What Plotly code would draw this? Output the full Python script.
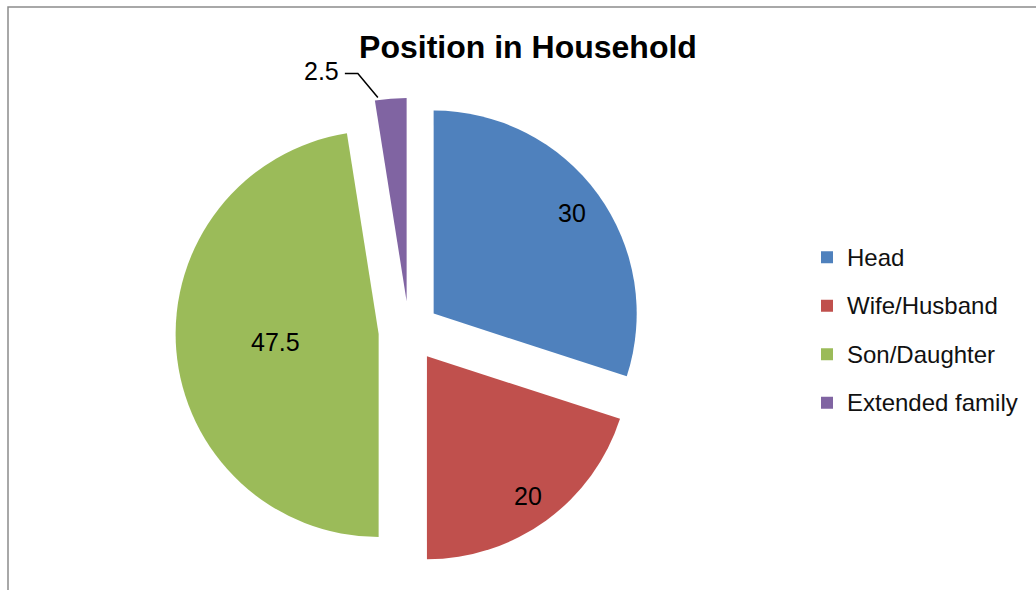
import math
import plotly.graph_objects as go

labels = ["Head", "Wife/Husband", "Son/Daughter", "Extended family"]
values = [30, 20, 47.5, 2.5]
colors = ["#4F81BD", "#C0504D", "#9BBB59", "#8064A2"]
label_radius = [0.84, 0.85, 0.51, None]   # where each value label sits, as a fraction of the radius
pull = 0.15

W, H = 1036, 590
dom_x = [0.1694, 0.6202]
dom_y = [0.0424, 0.8339]
FONT = "Liberation Sans, Arial"

fig = go.Figure()
fig.add_trace(go.Pie(
    labels=[f'<span style="font-size:24px; baseline-shift:5px">{l}</span>' for l in labels],
    values=values,
    sort=False,
    direction="clockwise",
    rotation=0,
    pull=[pull] * len(values),
    marker=dict(colors=colors, line=dict(width=0)),
    textinfo="none",
    domain=dict(x=dom_x, y=dom_y),
    hovertemplate="%{label}: %{value}<extra></extra>",
    showlegend=True,
))

# geometry of the pie (same rule plotly uses) to place the value labels
total = sum(values)
box_w = W * (dom_x[1] - dom_x[0])
box_h = H * (dom_y[1] - dom_y[0])
r = min(box_w, box_h) / (2 + 2 * pull)
cx = W * (dom_x[0] + dom_x[1]) / 2
cy = H * (1 - dom_y[0]) - box_h / 2


def px(x):
    return x / W


def py(y):
    return 1 - y / H


def slice_center(i):
    mid = (sum(values[:i]) + values[i] / 2) / total * 360
    return (cx + pull * r * math.sin(math.radians(mid)),
            cy - pull * r * math.cos(math.radians(mid)), mid)


for i, v in enumerate(values):
    ox, oy, mid = slice_center(i)
    if label_radius[i] is not None:
        f = label_radius[i]
        lx = ox + f * r * math.sin(math.radians(mid))
        ly = oy - f * r * math.cos(math.radians(mid))
        fig.add_annotation(xref="paper", yref="paper", x=px(lx), y=py(ly),
                           text=f"{v}", showarrow=False, xanchor="center", yanchor="middle",
                           font=dict(family=FONT, size=25, color="black"))
    else:
        start = sum(values[:i]) / total * 360
        tx = ox + r * math.sin(math.radians(start)) + 3
        ty = oy - r * math.cos(math.radians(start)) - 3
        p1 = (tx - 20, ty - 24)
        p2 = (p1[0] - 13, p1[1])
        fig.add_shape(type="path", xref="paper", yref="paper",
                      path=f"M{px(tx)},{py(ty)} L{px(p1[0])},{py(p1[1])} L{px(p2[0])},{py(p2[1])}",
                      line=dict(color="black", width=1.5))
        fig.add_annotation(xref="paper", yref="paper", x=px(p2[0] - 4), y=py(p2[1] - 3),
                           text=f"{v}", showarrow=False, xanchor="right", yanchor="middle",
                           font=dict(family=FONT, size=25, color="black"))

# chart frame
fig.add_shape(type="rect", xref="paper", yref="paper",
              x0=8 / W, x1=1.02, y0=-0.02, y1=1 - 7 / H,
              line=dict(color="#8C8C8C", width=1.5), fillcolor="rgba(0,0,0,0)")

fig.update_layout(
    width=W, height=H,
    margin=dict(l=0, r=0, t=0, b=0),
    paper_bgcolor="white", plot_bgcolor="white",
    title=dict(text="<b>Position in Household</b>", x=528 / W, xanchor="center",
               y=1 - 47 / H, yanchor="middle", yref="container",
               font=dict(family=FONT, size=32, color="black")),
    legend=dict(x=807 / W, y=1 - 228 / H, xanchor="left", yanchor="top",
                font=dict(family=FONT, size=35, color="#111111"),
                bgcolor="rgba(0,0,0,0)"),
)

fig.write_html("out.html", config={"displayModeBar": False},
               post_script="document.body.style.margin='0px';")
